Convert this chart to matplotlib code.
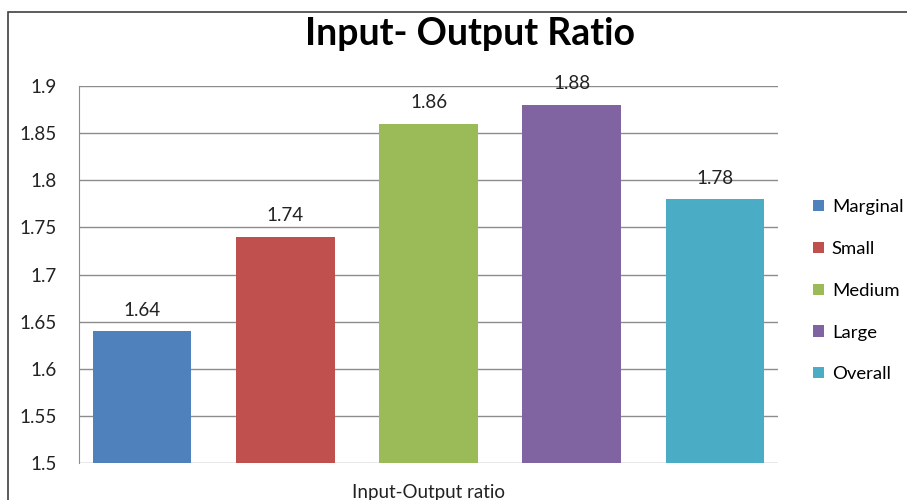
import matplotlib
matplotlib.use("Agg")
import matplotlib.pyplot as plt
from matplotlib.patches import Rectangle

# Input-output ratio by farm size class
groups = ["Marginal", "Small", "Medium", "Large", "Overall"]
ratios = [1.64, 1.74, 1.86, 1.88, 1.78]
colors = ["#4F81BD", "#C0504D", "#9BBB59", "#8064A2", "#4BACC6"]
yticks = [1.5, 1.55, 1.6, 1.65, 1.7, 1.75, 1.8, 1.85, 1.9]

plt.rcParams["font.family"] = ["Lato", "DejaVu Sans"]

fig = plt.figure(figsize=(9.07, 5.0), dpi=100)
ax = fig.add_axes([0.0871, 0.074, 0.7707, 0.754])

# outer chart frame (runs off the right and bottom edges)
frame = Rectangle((8 / 907, -0.05), 2.0, 1 - 12 / 500 + 0.05,
                  transform=fig.transFigure, fill=False,
                  edgecolor="#404040", linewidth=1.2, clip_on=False)
fig.patches.append(frame)

for i, (name, val, col) in enumerate(zip(groups, ratios, colors)):
    ax.bar(i, val - 1.5, bottom=1.5, width=0.69, color=col, label=name,
           zorder=3)
    ax.annotate(f"{val:.2f}", (i, val), xytext=(0, 9),
                textcoords="offset points", ha="center", va="bottom",
                fontsize=13.5, color="#222222", zorder=4)

ax.set_ylim(1.5, 1.9)
ax.set_xlim(-0.44, 4.44)
ax.set_yticks(yticks)
ax.set_yticklabels([f"{t:g}" for t in yticks])
ax.set_xticks([])
ax.tick_params(axis="y", length=0, pad=16, labelsize=13.5, labelcolor="#222222")
ax.grid(axis="y", color="#8c8c8c", linewidth=1, zorder=0)
for side in ["top", "right", "bottom"]:
    ax.spines[side].set_visible(False)
ax.spines["left"].set_color("#8c8c8c")
ax.set_xlabel("Input-Output ratio", fontsize=13.5, labelpad=15,
              color="#222222")

fig.text(0.518, 0.932, "Input- Output Ratio", ha="center", va="center",
         fontsize=27, fontweight="bold", color="black")

leg = ax.legend(loc="upper left", bbox_to_anchor=(1.04, 0.72), frameon=False,
                fontsize=13.3, handlelength=0.55, handleheight=0.55,
                handletextpad=0.45, labelspacing=1.4, borderaxespad=0)

fig.savefig("out.png", dpi=100)
